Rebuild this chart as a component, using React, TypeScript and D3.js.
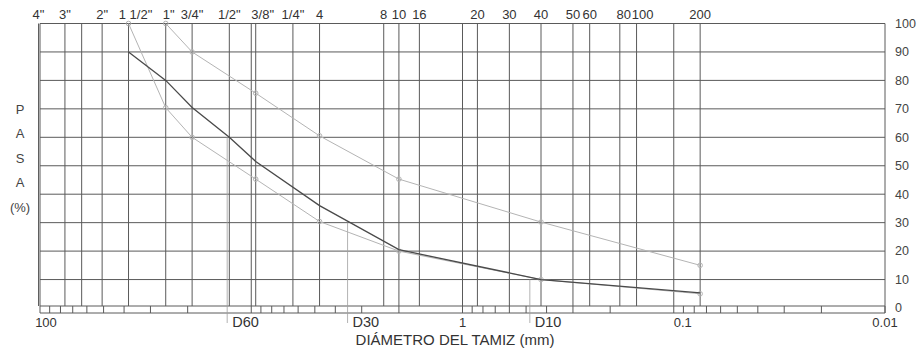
import React from "react";
import * as d3 from "d3";

// sieve openings (mm) and their labels along the top
const sieveSizes = [101.6, 76.2, 50.8, 38.1, 25.4, 19.05, 12.7, 9.525, 6.35, 4.75, 2.36, 2.0, 1.6, 0.85, 0.6, 0.425, 0.3, 0.25, 0.18, 0.15, 0.075];
const sieveLabels = ['4"', '3"', '2"', '1 1/2"', '1"', '3/4"', '1/2"', '3/8"', '1/4"', "4", "8", "10", "16", "20", "30", "40", "50", "60", "80", "100", "200"];
const extraLines = [63.5, 10, 1, 0.1];

const bottomTicks = [100, 1, 0.1, 0.01];
const bottomTickLabels = ["100", "1", "0.1", "0.01"];

const yTicks = [0, 10, 20, 30, 40, 50, 60, 70, 80, 90, 100];

// gradation curves: % passing at sieve sizes (mm)
const curveSizes = [38.1, 25.4, 19.05, 12.7, 9.525, 4.75, 2.0, 0.425, 0.075];
const curveMain = [90, 80, 70.5, 60, 51.5, 36, 20.5, 10, 5.3];

const upperSizes = [25.4, 19.05, 9.525, 4.75, 2.0, 0.425, 0.075];
const upperPass = [100, 90, 75.5, 60.5, 45.3, 30.2, 15];

const lowerSizes = [38.1, 25.4, 19.05, 9.525, 4.75, 2.0, 0.425, 0.075];
const lowerPass = [100, 70.4, 60, 45.3, 30.4, 20, 10, 5];

const dLabels = ["D60", "D30", "D10"];
const dSizes = [13.0, 3.5, 0.48];
const dPass = [60, 30, 10];

const yLetters = ["P", "A", "S", "A", "(%)"];

// small text nudges so crowded labels don't collide
const labelNudge: Record<string, number> = { '1 1/2"': 7, '3/8"': 7, "100": 6, "80": 4, '1"': 3 };

export default function App() {
  const width = 918;
  const height = 352;
  const x = d3.scaleLog().domain([100, 0.01]).range([40, 885]);
  const y = d3.scaleLinear().domain([0, 100]).range([308, 23.5]);
  const boxBottom = y(0) - 2;
  const stripBottom = y(0) + 5;
  const font = "Liberation Sans, Arial, sans-serif";
  const grid = "#5a5a5a";
  const light = "#b4b4b4";

  // strip subdivisions 1..9 per decade
  const stripTicks: number[] = [];
  [0.01, 0.1, 1, 10].forEach((d) => {
    for (let k = 1; k <= 9; k++) stripTicks.push(d * k);
  });

  const line = d3
    .line<[number, number]>()
    .x((d) => x(d[0]))
    .y((d) => y(d[1]));

  const mainPts = curveSizes.map((s, i) => [s, curveMain[i]] as [number, number]);
  const upperPts = upperSizes.map((s, i) => [s, upperPass[i]] as [number, number]);
  const lowerPts = lowerSizes.map((s, i) => [s, lowerPass[i]] as [number, number]);

  return (
    <svg width={width} height={height} style={{ position: "absolute", left: 0, top: 0, background: "#fff" }} fontFamily={font}>
      <rect x={0} y={0} width={width} height={height} fill="#fff" />

      {/* horizontal grid */}
      {yTicks.filter((t) => t > 0).map((t) => (
        <line key={"h" + t} x1={x(100)} x2={x(0.01)} y1={y(t)} y2={y(t)} stroke={grid} strokeWidth={1} />
      ))}

      {/* vertical sieve lines */}
      {sieveSizes.concat(extraLines).map((s, i) => (
        <line key={"v" + i} x1={x(s)} x2={x(s)} y1={y(100)} y2={boxBottom} stroke={grid} strokeWidth={1} />
      ))}

      {/* box */}
      <line x1={x(100)} x2={x(100)} y1={y(100)} y2={stripBottom} stroke={grid} />
      <line x1={x(0.01)} x2={x(0.01)} y1={y(100)} y2={stripBottom} stroke={grid} />
      <line x1={x(100)} x2={x(0.01)} y1={boxBottom} y2={boxBottom} stroke={grid} />
      <line x1={x(100)} x2={x(0.01)} y1={stripBottom} y2={stripBottom} stroke={grid} />

      {/* log strip */}
      {stripTicks.map((t, i) => (
        <line key={"s" + i} x1={x(t)} x2={x(t)} y1={boxBottom} y2={stripBottom} stroke={grid} strokeWidth={1} />
      ))}

      {/* D lines */}
      {dSizes.map((s, i) => (
        <g key={"d" + i}>
          <line x1={x(s)} x2={x(s)} y1={y(dPass[i])} y2={323} stroke="#a0a0a0" strokeWidth={0.8} />
          <text x={x(s) + 5} y={327} fontSize={14.5} fill="#333">
            {dLabels[i]}
          </text>
        </g>
      ))}

      {/* curves */}
      <path d={line(upperPts) || ""} fill="none" stroke={light} strokeWidth={1} />
      <path d={line(lowerPts) || ""} fill="none" stroke={light} strokeWidth={1} />
      {upperPts.concat(lowerPts).map((p, i) => (
        <circle key={"c" + i} cx={x(p[0])} cy={y(p[1])} r={2.3} fill="none" stroke={light} strokeWidth={1} />
      ))}
      <path d={line(mainPts) || ""} fill="none" stroke="#4a4a4a" strokeWidth={1.3} />

      {/* top labels */}
      {sieveLabels.map((l, i) => (
        <text key={"t" + i} x={x(sieveSizes[i]) + (labelNudge[l] || 0)} y={19} fontSize={13} fill="#333" textAnchor="middle">
          {l}
        </text>
      ))}

      {/* right labels */}
      {yTicks.map((t) => (
        <text key={"r" + t} x={895} y={y(t)} dy="0.35em" fontSize={12.5} fill="#444">
          {t}
        </text>
      ))}

      {/* bottom labels */}
      {bottomTicks.map((t, i) => (
        <text key={"b" + i} x={x(t) + (i === 0 ? 6 : i === 2 ? 9 : 0)} y={327} fontSize={13} fill="#333" textAnchor="middle">
          {bottomTickLabels[i]}
        </text>
      ))}
      <text x={455} y={345} fontSize={15} fill="#333" textAnchor="middle">
        DIÁMETRO DEL TAMIZ (mm)
      </text>

      {/* left label */}
      {yLetters.map((l, i) => (
        <text key={"p" + i} x={20} y={113.5 + i * 24.5} fontSize={13} fill="#444" textAnchor="middle">
          {l}
        </text>
      ))}
    </svg>
  );
}
